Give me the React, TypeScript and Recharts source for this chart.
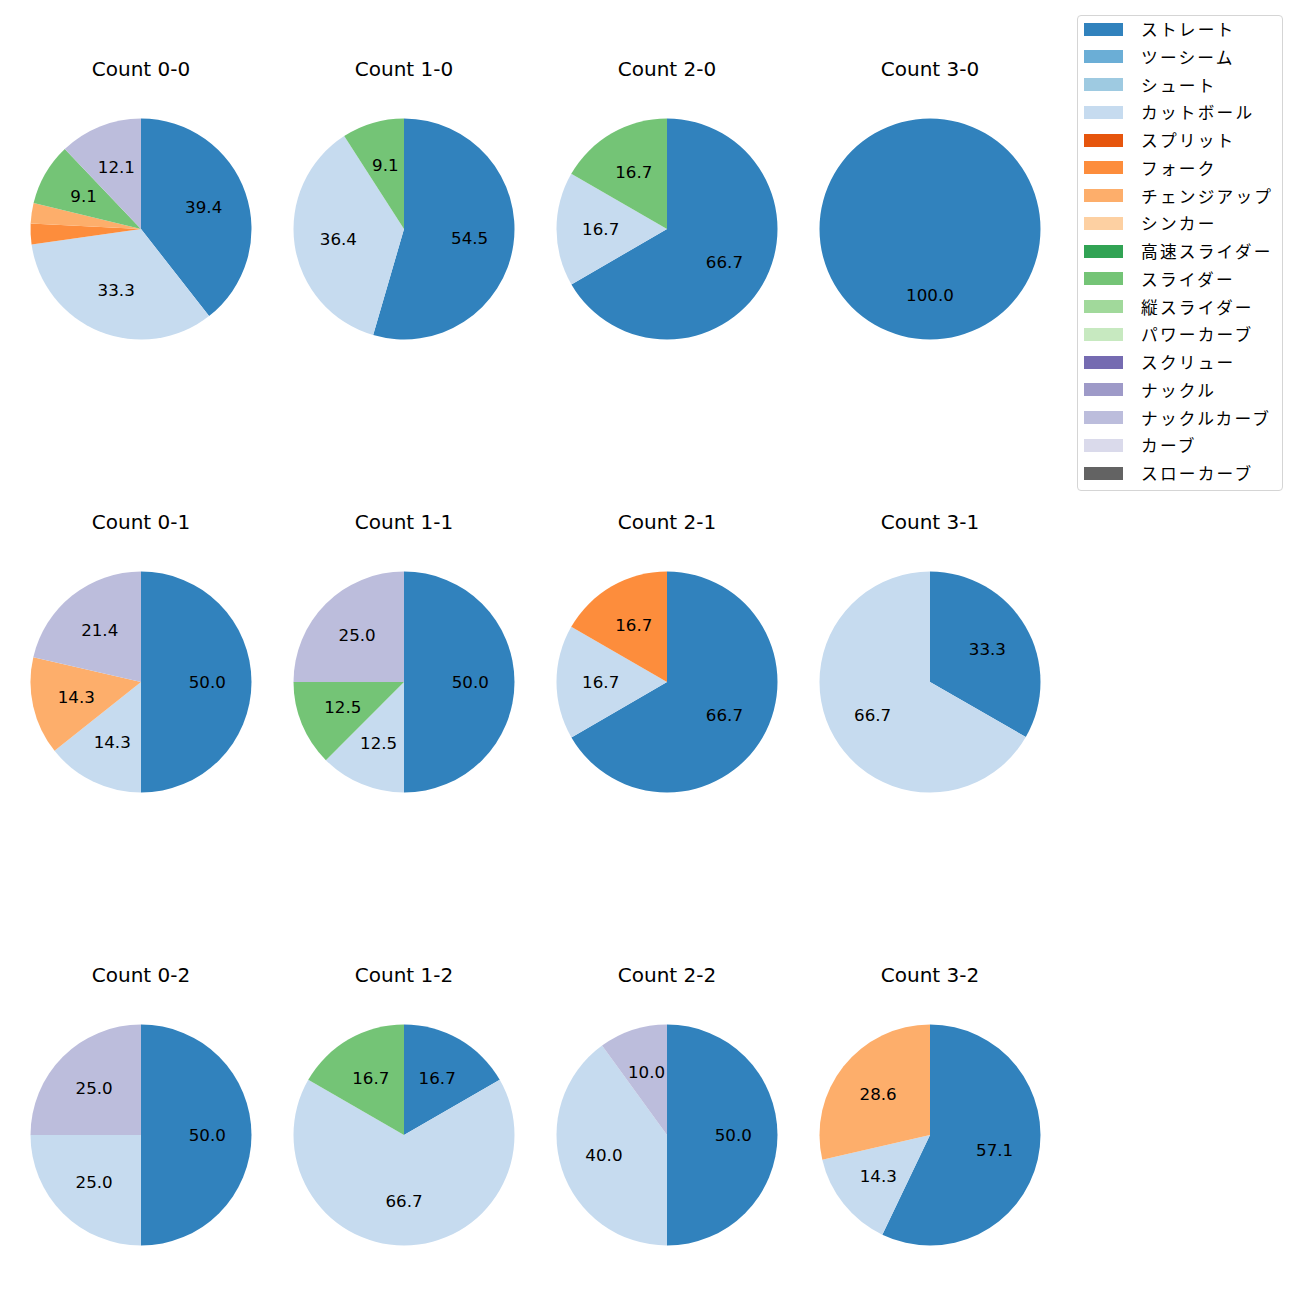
import { Pie, PieChart, Cell } from "recharts";

const pitchTypes = [
    "ストレート",
    "ツーシーム",
    "シュート",
    "カットボール",
    "スプリット",
    "フォーク",
    "チェンジアップ",
    "シンカー",
    "高速スライダー",
    "スライダー",
    "縦スライダー",
    "パワーカーブ",
    "スクリュー",
    "ナックル",
    "ナックルカーブ",
    "カーブ",
    "スローカーブ",
];

const pitchColors = [
    "#3182bd",
    "#6baed6",
    "#9ecae1",
    "#c6dbef",
    "#e6550d",
    "#fd8d3c",
    "#fdae6b",
    "#fdd0a2",
    "#31a354",
    "#74c476",
    "#a1d99b",
    "#c7e9c0",
    "#756bb1",
    "#9e9ac8",
    "#bcbddc",
    "#dadaeb",
    "#636363",
];

const countTitles = [
    "Count 0-0", "Count 1-0", "Count 2-0", "Count 3-0",
    "Count 0-1", "Count 1-1", "Count 2-1", "Count 3-1",
    "Count 0-2", "Count 1-2", "Count 2-2", "Count 3-2",
];

// percentages per pitch type, in legend order
const count00 = [39.4, 0, 0, 33.3, 0, 3.0, 3.0, 0, 0, 9.1, 0, 0, 0, 0, 12.1, 0, 0];
const count10 = [54.5, 0, 0, 36.4, 0, 0, 0, 0, 0, 9.1, 0, 0, 0, 0, 0, 0, 0];
const count20 = [66.7, 0, 0, 16.7, 0, 0, 0, 0, 0, 16.7, 0, 0, 0, 0, 0, 0, 0];
const count30 = [100.0, 0, 0, 0, 0, 0, 0, 0, 0, 0, 0, 0, 0, 0, 0, 0, 0];
const count01 = [50.0, 0, 0, 14.3, 0, 0, 14.3, 0, 0, 0, 0, 0, 0, 0, 21.4, 0, 0];
const count11 = [50.0, 0, 0, 12.5, 0, 0, 0, 0, 0, 12.5, 0, 0, 0, 0, 25.0, 0, 0];
const count21 = [66.7, 0, 0, 16.7, 0, 16.7, 0, 0, 0, 0, 0, 0, 0, 0, 0, 0, 0];
const count31 = [33.3, 0, 0, 66.7, 0, 0, 0, 0, 0, 0, 0, 0, 0, 0, 0, 0, 0];
const count02 = [50.0, 0, 0, 25.0, 0, 0, 0, 0, 0, 0, 0, 0, 0, 0, 25.0, 0, 0];
const count12 = [16.7, 0, 0, 66.7, 0, 0, 0, 0, 0, 16.7, 0, 0, 0, 0, 0, 0, 0];
const count22 = [50.0, 0, 0, 40.0, 0, 0, 0, 0, 0, 0, 0, 0, 0, 0, 10.0, 0, 0];
const count32 = [57.1, 0, 0, 14.3, 0, 0, 28.6, 0, 0, 0, 0, 0, 0, 0, 0, 0, 0];

const countValues = [
    count00, count10, count20, count30,
    count01, count11, count21, count31,
    count02, count12, count22, count32,
];

const LATIN_FONT = "'DejaVu Sans', sans-serif";
const JP_FONT = "'Noto Sans CJK JP', 'Noto Sans', sans-serif";
const colCenters = [141, 404, 667, 930];
const rowCenters = [229, 682, 1135];
const RADIUS = 110.5;
const BOX = 240;

const renderLabel = (props: any) => {
    const { cx, cy, midAngle, outerRadius, percent, value } = props;
    if (percent < 0.05) return null;
    const rad = (Math.PI / 180) * midAngle;
    const x = cx + outerRadius * 0.6 * Math.cos(rad);
    const y = cy - outerRadius * 0.6 * Math.sin(rad);
    return (
        <text
            x={x}
            y={y}
            textAnchor="middle"
            dominantBaseline="central"
            fill="#000"
            fontSize={16.7}
            fontFamily={LATIN_FONT}
        >
            {Number(value).toFixed(1)}
        </text>
    );
};

const CountPie = ({ index }: { index: number }) => {
    const data = countValues[index]
        .map((v, i) => ({ name: pitchTypes[i], value: v, color: pitchColors[i] }))
        .filter((d) => d.value > 0);
    const cx = colCenters[index % 4];
    const cy = rowCenters[Math.floor(index / 4)];
    return (
        <>
            <div
                style={{
                    position: "absolute",
                    left: cx - 100,
                    width: 200,
                    top: cy - 160 - 12,
                    textAlign: "center",
                    fontFamily: LATIN_FONT,
                    fontSize: 20,
                    color: "#000",
                    lineHeight: "24px",
                }}
            >
                {countTitles[index]}
            </div>
            <div style={{ position: "absolute", left: cx - BOX / 2, top: cy - BOX / 2 }}>
                <PieChart width={BOX} height={BOX} margin={{ top: 0, right: 0, bottom: 0, left: 0 }}>
                    <Pie
                        data={data}
                        dataKey="value"
                        cx={BOX / 2}
                        cy={BOX / 2}
                        outerRadius={RADIUS}
                        startAngle={90}
                        endAngle={-270}
                        stroke="none"
                        labelLine={false}
                        label={renderLabel}
                        isAnimationActive={false}
                    >
                        {data.map((d) => (
                            <Cell key={d.name} fill={d.color} />
                        ))}
                    </Pie>
                </PieChart>
            </div>
        </>
    );
};

const PitchLegend = () => (
    <div
        style={{
            position: "absolute",
            left: 1077,
            top: 15,
            width: 206,
            height: 476,
            border: "1px solid #d5d5d5",
            borderRadius: 4,
            background: "#fff",
            boxSizing: "border-box",
        }}
    >
        {pitchTypes.map((name, i) => (
            <div
                key={name}
                style={{
                    position: "absolute",
                    left: 0,
                    top: 13.0 + i * 27.75 - 14,
                    height: 28,
                    display: "flex",
                    alignItems: "center",
                }}
            >
                <div style={{ marginLeft: 6, width: 39, height: 13, background: pitchColors[i] }} />
                <span
                    style={{
                        marginLeft: 18,
                        fontFamily: JP_FONT,
                        fontSize: 16.7,
                        letterSpacing: 2.2,
                        lineHeight: "28px",
                        color: "#000",
                        whiteSpace: "nowrap",
                    }}
                >
                    {name}
                </span>
            </div>
        ))}
    </div>
);

export default function App() {
    return (
        <div
            style={{
                position: "absolute",
                left: 0,
                top: 0,
                width: 1300,
                height: 1300,
                background: "#fff",
                overflow: "hidden",
            }}
        >
            {countTitles.map((t, i) => (
                <CountPie key={t} index={i} />
            ))}
            <PitchLegend />
        </div>
    );
}
